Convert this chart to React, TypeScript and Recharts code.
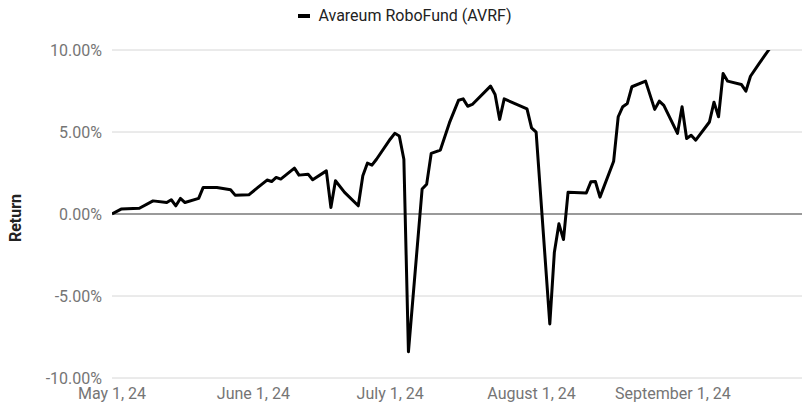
import React from "react"
import { LineChart, Line, XAxis, YAxis, CartesianGrid, ReferenceLine, Legend } from "recharts"

// days since May 1, 2024
const days = [
  0, 2, 6, 9, 12, 13, 14, 15, 16, 19, 20, 23, 26, 27, 30, 32, 34, 35, 36, 37, 40, 41, 43, 44, 47, 48, 49, 51,
  54, 55, 56, 57, 58, 61, 62, 63, 64, 65, 68, 69, 70, 72, 74, 76, 77, 78, 79, 83, 84, 85, 86, 91, 92, 93, 96,
  97, 98, 99, 100, 104, 105, 106, 107, 110, 111, 112, 113, 114, 117, 119, 120, 121, 124, 125, 126, 127, 128,
  131, 132, 133, 134, 135, 138, 139, 140, 142, 144, 145,
]

// AVRF cumulative return, %
const returns = [
  0, 0.3, 0.35, 0.8, 0.7, 0.87, 0.5, 0.95, 0.7, 0.95, 1.62, 1.62, 1.48, 1.15, 1.17, 1.62, 2.07, 1.98, 2.23,
  2.13, 2.8, 2.37, 2.43, 2.09, 2.63, 0.4, 2.03, 1.32, 0.5, 2.33, 3.1, 2.98, 3.34, 4.56, 4.92, 4.76, 3.34,
  -8.4, 1.52, 1.82, 3.7, 3.9, 5.57, 6.94, 7.02, 6.57, 6.68, 7.8, 7.29, 5.77, 7.02, 6.41, 5.25, 4.99, -6.7,
  -2.33, -0.6, -1.56, 1.32, 1.28, 1.96, 1.98, 1.03, 3.22, 5.93, 6.54, 6.74, 7.76, 8.1, 6.38, 6.88, 6.62,
  4.92, 6.54, 4.6, 4.8, 4.5, 5.61, 6.82, 5.93, 8.57, 8.1, 7.9, 7.49, 8.4, 9.22, 10.0, 10.5,
]

const xTicks = [0, 31, 61, 92, 123]
const xTickLabels = ["May 1, 24", "June 1, 24", "July 1, 24", "August 1, 24", "September 1, 24"]
const yTicks = [-10, -5, 0, 5, 10]

const seriesName = "Avareum RoboFund (AVRF)"

const data = days.map((d, i) => ({ day: d, value: returns[i] }))

const FONT = "Roboto, 'Noto Sans', sans-serif"

const LegendContent = () => (
  <div
    style={{
      display: "flex",
      justifyContent: "center",
      alignItems: "center",
      fontFamily: FONT,
      fontSize: 16,
      color: "#222",
      paddingLeft: 8,
    }}
  >
    <span style={{ display: "inline-block", width: 12, height: 4, background: "#000", marginRight: 8 }} />
    <span>{seriesName}</span>
  </div>
)

const YLabel = (props: any) => {
  const { viewBox } = props
  const cx = 15
  const cy = viewBox.y + viewBox.height / 2 + 4
  return (
    <text
      x={cx}
      y={cy}
      transform={`rotate(-90, ${cx}, ${cy})`}
      textAnchor="middle"
      dominantBaseline="central"
      fontFamily={FONT}
      fontSize={16}
      fontWeight="bold"
      fill="#222"
    >
      Return
    </text>
  )
}

export default function App() {
  return (
    <div style={{ position: "absolute", left: 0, top: 0, width: 802, height: 407, background: "#fff" }}>
      <LineChart width={802} height={407} data={data} margin={{ top: 50, right: 0, bottom: 0, left: 0 }}>
        <CartesianGrid horizontal vertical={false} stroke="#d6d6d6" />
        <XAxis
          type="number"
          dataKey="day"
          domain={[0, 151.3]}
          ticks={xTicks}
          tickFormatter={(v) => xTickLabels[xTicks.indexOf(v)]}
          axisLine={false}
          tickLine={false}
          tickSize={0}
          tickMargin={10}
          height={29}
          tick={{ fontFamily: FONT, fontSize: 16, fill: "#757575" }}
          allowDataOverflow
        />
        <YAxis
          type="number"
          domain={[-10, 10]}
          ticks={yTicks}
          tickFormatter={(v) => `${v.toFixed(2)}%`}
          axisLine={false}
          tickLine={false}
          tickSize={0}
          tickMargin={10}
          width={112}
          tick={{ fontFamily: FONT, fontSize: 16, fill: "#757575" }}
          allowDataOverflow
          label={<YLabel />}
        />
        <ReferenceLine y={0} stroke="#9a9a9a" strokeWidth={2} />
        <Legend
          layout="horizontal"
          align="center"
          verticalAlign="middle"
          wrapperStyle={{ top: 6, left: 0, width: 802 }}
          content={<LegendContent />}
        />
        <Line
          type="linear"
          dataKey="value"
          stroke="#000"
          strokeWidth={3}
          dot={false}
          isAnimationActive={false}
          strokeLinejoin="round"
        />
      </LineChart>
    </div>
  )
}
